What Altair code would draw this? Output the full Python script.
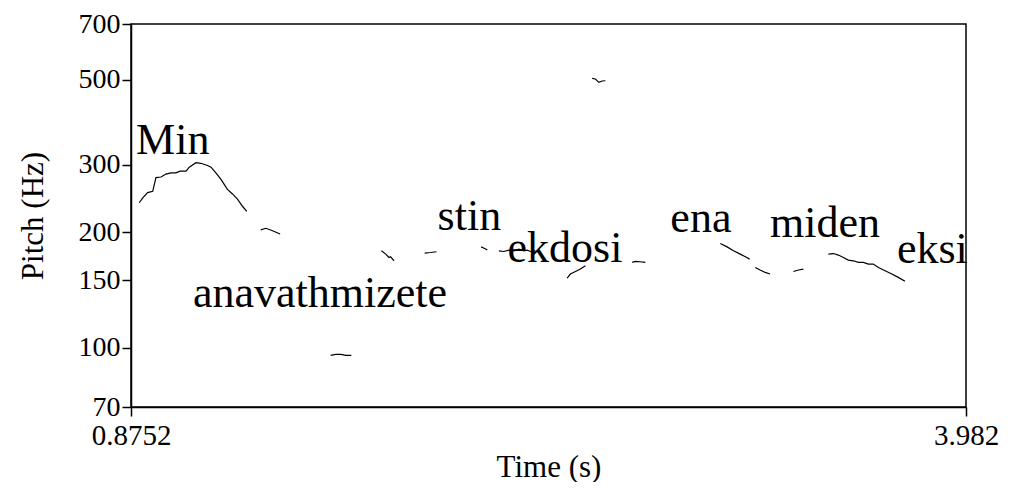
import altair as alt
import pandas as pd

# Pitch contour segments: (time in s, pitch in Hz)
seg1_t = [0.906, 0.919, 0.937, 0.956, 0.968, 0.987, 1.005, 1.024, 1.042, 1.058, 1.080, 1.092, 1.117, 1.135, 1.160, 1.173, 1.191, 1.210, 1.234, 1.253, 1.272, 1.290, 1.306]
seg1_f = [239, 246, 254, 256, 278, 279, 284, 286, 286, 289, 289, 296, 304, 303, 299, 296, 286, 275, 259, 252, 244, 234, 227]
seg2_t = [1.358, 1.377, 1.402, 1.430]
seg2_f = [203, 205, 202, 198]
seg3_t = [1.618, 1.637, 1.656, 1.674, 1.695]
seg3_f = [95.5, 96.1, 96.1, 95.5, 95.5]
seg4_t = [1.807, 1.823, 1.835, 1.841, 1.854]
seg4_f = [179, 175.5, 172, 172.7, 168.6]
seg5_t = [1.968, 1.990, 2.012]
seg5_f = [176.6, 177.2, 178]
seg6_t = [2.178, 2.191, 2.201]
seg6_f = [183.3, 181.5, 179.8]
seg7_t = [2.244, 2.262, 2.281, 2.300, 2.318, 2.337, 2.349, 2.362, 2.380]
seg7_f = [179, 178.3, 179.8, 179, 180.9, 179, 179.8, 178.3, 179]
seg8_t = [2.498, 2.510, 2.529, 2.547, 2.566]
seg8_f = [152, 155.7, 158.1, 160.4, 163.7]
seg9_t = [2.591, 2.603, 2.616, 2.628, 2.640]
seg9_f = [504.6, 502.9, 492.7, 496.9, 497.7]
seg10_t = [2.740, 2.752, 2.770, 2.789]
seg10_f = [167, 168, 167.6, 167]
seg11_t = [3.068, 3.093, 3.117, 3.142, 3.161, 3.177]
seg11_f = [187, 183.3, 179, 175.5, 172.7, 170.3]
seg12_t = [3.198, 3.216, 3.235, 3.253]
seg12_f = [162, 159.5, 157.2, 155.7]
seg13_t = [3.340, 3.359, 3.377]
seg13_f = [158.1, 159.5, 160.4]
seg14_t = [3.470, 3.489, 3.507, 3.526, 3.544, 3.563, 3.582, 3.600, 3.619, 3.637, 3.656, 3.681, 3.706, 3.730, 3.755]
seg14_f = [175.5, 176.1, 174.5, 172, 169.3, 168.6, 167, 167, 165.3, 165.3, 162, 158.8, 155.7, 152.6, 149]

segments = [
    (seg1_t, seg1_f), (seg2_t, seg2_f), (seg3_t, seg3_f), (seg4_t, seg4_f),
    (seg5_t, seg5_f), (seg6_t, seg6_f), (seg7_t, seg7_f), (seg8_t, seg8_f),
    (seg9_t, seg9_f), (seg10_t, seg10_f), (seg11_t, seg11_f), (seg12_t, seg12_f),
    (seg13_t, seg13_f), (seg14_t, seg14_f),
]

# Word labels
words = ["Min", "anavathmizete", "stin", "ekdosi", "ena", "miden", "eksi"]
word_t = [0.894, 1.106, 2.016, 2.276, 2.882, 3.253, 3.725]
word_f = [320, 128, 203, 167.6, 200.6, 194.7, 166.7]

y_ticks = [70, 100, 150, 200, 300, 500, 700]
x_min, x_max = 0.8752, 3.982

rows = []
for i, (ts, fs) in enumerate(segments):
    for t, f in zip(ts, fs):
        rows.append({"seg": i, "t": t, "f": f})
df = pd.DataFrame(rows)
wdf = pd.DataFrame({"word": words, "t": word_t, "f": word_f})

FONT = "Liberation Serif"

xscale = alt.Scale(domain=[x_min, x_max], nice=False, zero=False)
yscale = alt.Scale(type="log", domain=[70, 700], nice=False)

xaxis = alt.Axis(
    title="Time (s)", values=[x_min, x_max],
    labelExpr="datum.value < 1 ? '0.8752' : '3.982'",
    grid=False, tickSize=9, tickColor="black", tickWidth=1.5,
    domainColor="black", domainWidth=1.5, labelPadding=5,
    labelFont=FONT, labelFontSize=29, labelColor="black",
    titleFont=FONT, titleFontSize=31, titleFontWeight="normal", titleColor="black",
    titlePadding=2, labelFlush=False,
)
yaxis = alt.Axis(
    title="Pitch (Hz)", values=y_ticks, format="d",
    grid=False, tickSize=9, tickColor="black", tickWidth=1.5,
    domainColor="black", domainWidth=1.5, labelPadding=2,
    labelFont=FONT, labelFontSize=28, labelColor="black",
    titleFont=FONT, titleFontSize=31, titleFontWeight="normal", titleColor="black",
    titlePadding=29, labelFlush=False,
)

lines = alt.Chart(df).mark_line(color="black", strokeWidth=1.2).encode(
    x=alt.X("t:Q", scale=xscale, axis=xaxis),
    y=alt.Y("f:Q", scale=yscale, axis=yaxis),
    detail="seg:N",
)

texts = alt.Chart(wdf).mark_text(
    font=FONT, fontSize=44, color="black", align="left", baseline="alphabetic"
).encode(
    x=alt.X("t:Q", scale=xscale),
    y=alt.Y("f:Q", scale=yscale),
    text="word:N",
)

chart = alt.layer(lines, texts).properties(
    width=835, height=383,
    padding={"left": 123, "top": 16, "right": 50, "bottom": 75},
    autosize="none",
    background="white",
).configure_view(stroke="black", strokeWidth=1.5)

chart.save("out.html", embed_options={"renderer": "svg", "actions": False})
